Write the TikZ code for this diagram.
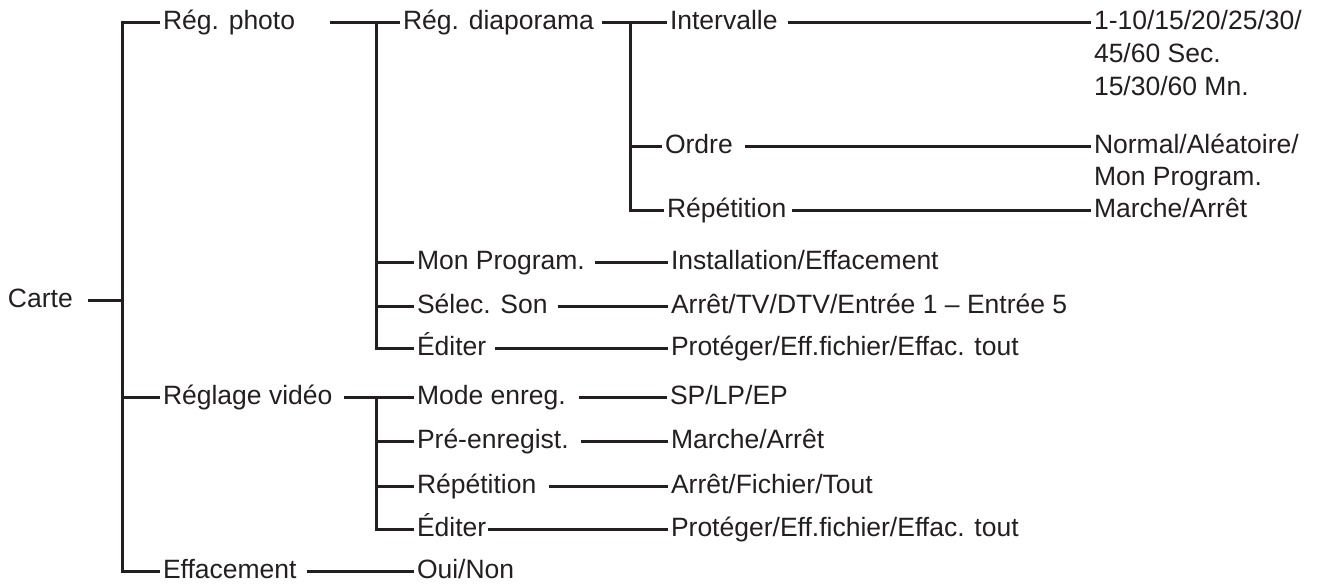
\documentclass[tikz,border=0pt]{standalone}
\usepackage{fontspec}
\setmainfont{Liberation Sans}
\usepackage{tikz}
\usetikzlibrary{positioning, calc}
\definecolor{inkgray}{HTML}{231F20}

\begin{document}
\begin{tikzpicture}[
    x=0.5pt, y=-0.5pt,
    item/.style={
        anchor=west, inner sep=0pt, outer sep=0pt,
        text height=0.72em, text depth=0pt,
        text=inkgray, font=\fontsize{13.25}{16}\selectfont
    },
    link/.style={
        draw=inkgray, line width=1.5pt, line join=miter,
        shorten <=5pt, shorten >=1.5pt
    },
]
\useasboundingbox (0,0) rectangle (1337,585);

% root and first level
\node[item] (carte) at (8,300) {Carte};
\node[item] (photo) at (163,22.5) {Rég. photo};
\node[item] (video) at (163,397.5) {Réglage vidéo};
\node[item] (effac) at (163,571.5) {Effacement};

% photo settings
\node[item] (diapo) at (403,22.5) {Rég. diaporama};
\node[item] (monprog) at (417,262) {Mon Program.};
\node[item] (selec) at (417,306) {Sélec. Son};
\node[item] (editphoto) at (417,348.5) {Éditer};

\node[item] (interv) at (670,22.5) {Intervalle};
\node[item] (ordre) at (665,146.5) {Ordre};
\node[item] (repdiapo) at (667,210.5) {Répétition};

\node[item] (intval) at (1094,22.5) {1-10/15/20/25/30/};
\node[item] (intsec) at (1094,55) {45/60 Sec.};
\node[item] (intmn) at (1094,88) {15/30/60 Mn.};
\node[item] (ordval) at (1094,146.5) {Normal/Aléatoire/};
\node[item] (ordprog) at (1094,178.5) {Mon Program.};
\node[item] (repdval) at (1094,210.5) {Marche/Arrêt};

\node[item] (monval) at (671,262) {Installation/Effacement};
\node[item] (selval) at (671,306) {Arrêt/TV/DTV/Entrée 1 – Entrée 5};
\node[item] (edpval) at (671,348.5) {Protéger/Eff.fichier/Effac. tout};

% video settings
\node[item] (mode) at (417,397.5) {Mode enreg.};
\node[item] (preenr) at (417,441.5) {Pré-enregist.};
\node[item] (repvideo) at (417,486) {Répétition};
\node[item] (editvideo) at (417,529.5) {Éditer};

\node[item] (modeval) at (670,397.5) {SP/LP/EP};
\node[item] (preval) at (671,441.5) {Marche/Arrêt};
\node[item] (repvval) at (671,486) {Arrêt/Fichier/Tout};
\node[item] (edvval) at (671,529.5) {Protéger/Eff.fichier/Effac. tout};

\node[item] (effval) at (417,571.5) {Oui/Non};

% bars
\coordinate (bar0) at (122.5,22.5);
\coordinate (bar1) at (376.5,22.5);
\coordinate (bar2) at (630,22.5);
\coordinate (bar3) at (376.5,397.5);

% connectors
\draw[link, shorten <=7.5pt, shorten >=0pt] (carte.east) -- (bar0 |- carte.west);
\draw[link, shorten <=1.5pt] (photo.west) -- (bar0) |- (effac.west);
\draw[link, shorten <=0pt] (bar0 |- video.west) -- (video.west);

\draw[link, shorten <=17.5pt] (photo.east) -- (diapo.west);
\draw[link, shorten <=0pt] (bar1) |- (editphoto.west);
\foreach \n in {monprog, selec}
    \draw[link, shorten <=0pt] (bar1 |- \n.west) -- (\n.west);

\draw[link, shorten <=4pt] (diapo.east) -- (interv.west);
\draw[link, shorten <=0pt] (bar2) |- (repdiapo.west);
\draw[link, shorten <=0pt] (bar2 |- ordre.west) -- (ordre.west);

\draw[link] (interv.east) -- (intval.west);
\draw[link, shorten <=6pt] (ordre.east) -- (ordval.west);
\draw[link, shorten <=3pt] (repdiapo.east) -- (repdval.west);

\draw[link] (monprog.east) -- (monval.west);
\draw[link] (selec.east) -- (selval.west);
\draw[link, shorten <=4.5pt] (editphoto.east) -- (edpval.west);

\draw[link, shorten <=6pt] (video.east) -- (mode.west);
\draw[link, shorten <=0pt] (bar3) |- (editvideo.west);
\foreach \n in {preenr, repvideo}
    \draw[link, shorten <=0pt] (bar3 |- \n.west) -- (\n.west);

\draw[link, shorten <=6.5pt] (mode.east) -- (modeval.west);
\draw[link, shorten <=6pt] (preenr.east) -- (preval.west);
\draw[link, shorten <=6.5pt] (repvideo.east) -- (repvval.west);
\draw[link, shorten <=1pt] (editvideo.east) -- (edvval.west);

\draw[link] (effac.east) -- (effval.west);
\end{tikzpicture}
\end{document}
